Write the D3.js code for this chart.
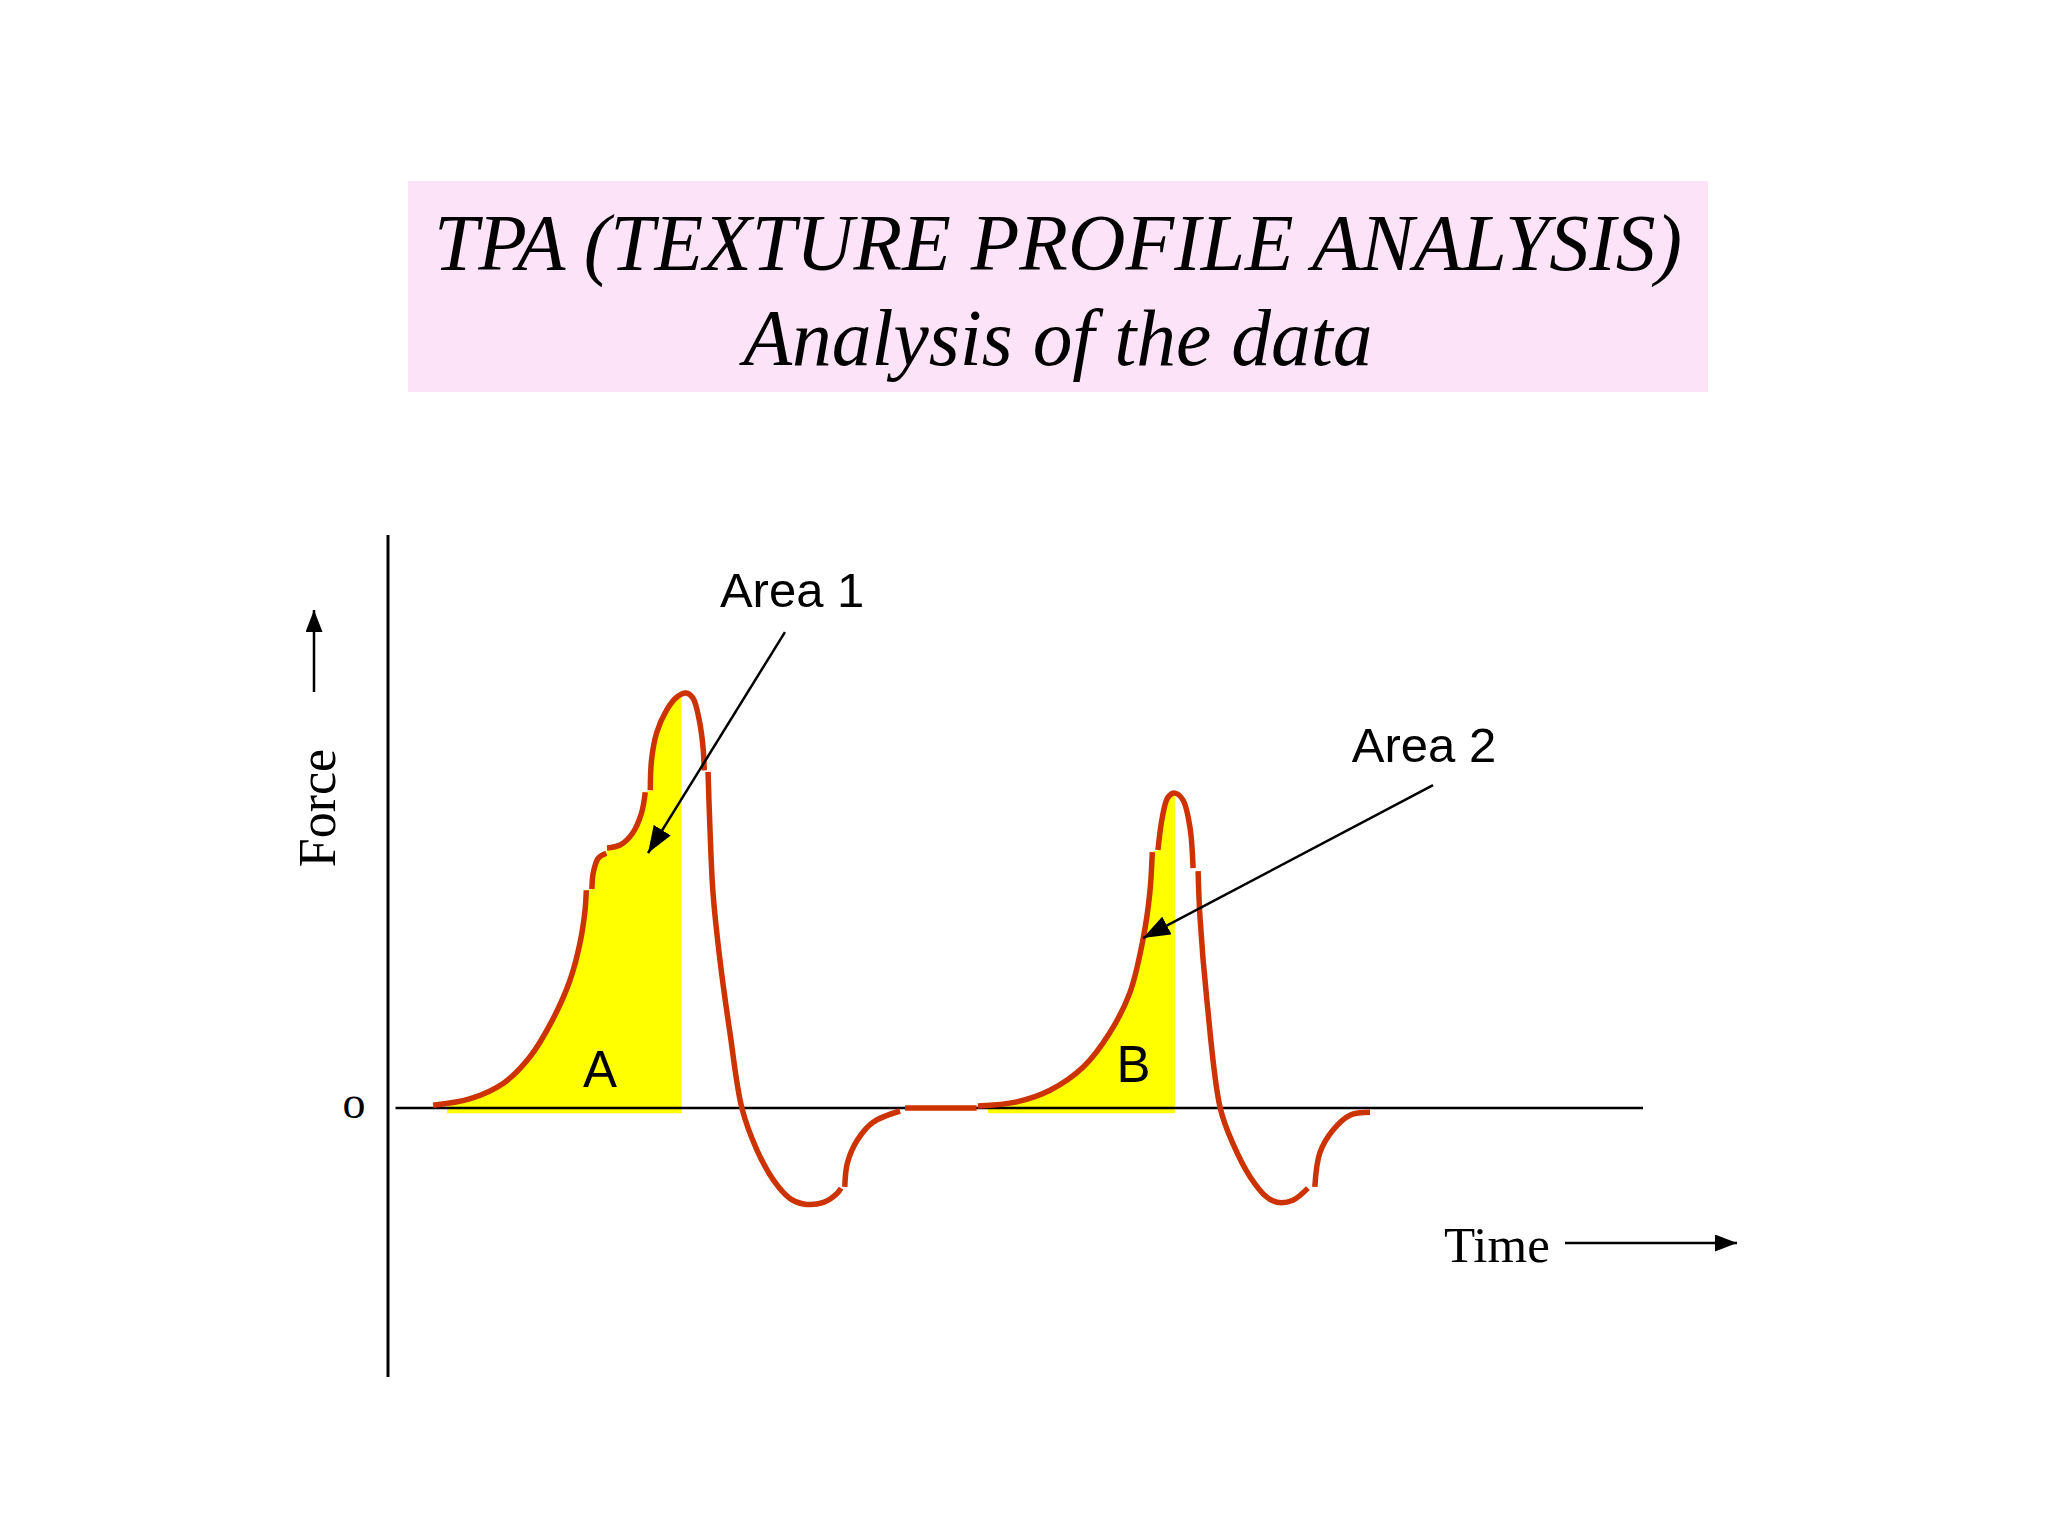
<!DOCTYPE html>
<html>
<head>
<meta charset="utf-8">
<script src="https://cdn.jsdelivr.net/npm/d3@7"></script>
<style>
  html, body { margin: 0; padding: 0; background: #ffffff; }
  svg { display: block; }
</style>
</head>
<body>
<svg id="tpa" width="2048" height="1536"></svg>
<script>
// Title text
const titleLines = ["TPA (TEXTURE PROFILE ANALYSIS)", "Analysis of the data"];

// Force / time curve, [time, force].
// The original curve is drawn in pieces with small steps between them.
const bite1 = [
  [[3.6, 0.7], [6.5, 2.2], [9.2, 6], [11.3, 12.3], [13.1, 21.2], [14.5, 30.8], [15.3, 39.8], [15.7, 47.7], [15.8, 52.5]],
  [[16.25, 52.8], [16.35, 56.6], [16.75, 60.2], [17.4, 61.4]],
  [[17.45, 62.7], [18.5, 63.4], [19.5, 66.3], [20.2, 71.1], [20.5, 76.1]],
  [[20.9, 76.6], [21, 83.9], [21.4, 90.4], [22.2, 95.9], [23, 99], [23.75, 100], [24.3, 98.8], [24.8, 93.5], [25.1, 87], [25.2, 81.4]],
  [[25.5, 81], [25.65, 67.7], [25.9, 51.8], [26.45, 35.7], [27.25, 18.1], [28.2, 0], [29.4, -10.1], [30.7, -17.3], [32, -21.7], [33.1, -23.1], [34.7, -22.7], [35.8, -20.5], [36.1, -19.3]],
  [[36.4, -19], [36.6, -13.3], [37.4, -7.7], [38.65, -3.4], [40.8, -0.7]]
];
const pause = [[41.2, 0], [46.9, 0]];
const bite2 = [
  [[47, 0.5], [50.1, 1.5], [52.75, 4.3], [55.4, 9.9], [57.5, 18.1], [59.1, 27.7], [60.15, 40.5], [60.7, 51.8], [60.9, 61.7]],
  [[61.35, 62.2], [61.7, 70.1], [62.15, 74.9], [62.7, 75.9], [63.35, 74.2], [63.9, 67.7], [64.15, 57.8]],
  [[64.55, 57.1], [64.7, 46], [65.25, 26], [66.3, 0.2], [67.3, -8.4], [68.7, -16.6], [70, -21.4], [70.85, -22.7], [72.1, -22.2], [73.3, -19.3]],
  [[73.85, -19], [74.25, -10.8], [75.3, -5.3], [76.65, -1.7], [78.25, -1]]
];

// shaded areas (time range) and which pieces of the curve bound them
const areaRanges = [[4.7, 23.4], [47.8, 62.7]];
const areaPieces = [bite1.slice(0, 4), bite2.slice(0, 2)];

// annotations [time, force]
const areaLabels = [
  {text: "Area 1", at: [26.45, 120.7], tip: [20.72, 61.45], from: [31.63, 114.7]},
  {text: "Area 2", at: [76.8, 83.4], tip: [60.16, 40.96], from: [83.27, 77.83]}
];
const letterLabels = [
  {text: "A", at: [16.9, 5.1]},
  {text: "B", at: [59.4, 6.3]}
];

// axis extents
const timeDomain = [0, 100];
const forceDomain = [-64.8, 138.1];

var svg = d3.select("#tpa");

// title box
svg.append("rect")
  .attr("x", 408).attr("y", 181)
  .attr("width", 1300).attr("height", 211)
  .attr("fill", "#fce3f7");

svg.selectAll("text.title")
  .data(titleLines)
  .enter()
  .append("text")
  .attr("class", "title")
  .attr("x", 1058)
  .attr("y", (d, i) => i == 0 ? 270 : 365)
  .attr("text-anchor", "middle")
  .attr("textLength", (d, i) => i == 0 ? 1248 : 629)
  .attr("lengthAdjust", "spacingAndGlyphs")
  .style("font-family", "'Liberation Serif', 'Times New Roman', serif")
  .style("font-style", "italic")
  .style("font-size", "80px")
  .text(d => d);

// scales
var x = d3.scaleLinear().domain(timeDomain).range([388, 1643]);
var y = d3.scaleLinear().domain(forceDomain).range([1377, 535]);

var defs = svg.append("defs");
function marker(id, len, wid) {
  defs.append("marker")
    .attr("id", id)
    .attr("viewBox", "0 0 10 10")
    .attr("preserveAspectRatio", "none")
    .attr("refX", 10).attr("refY", 5)
    .attr("markerWidth", len).attr("markerHeight", wid)
    .attr("markerUnits", "userSpaceOnUse")
    .attr("orient", "auto")
    .append("path")
    .attr("d", "M0,0 L10,5 L0,10 z")
    .attr("fill", "#000");
}
marker("head", 27, 20);
marker("headSmall", 22, 17);

areaRanges.forEach(function(r, i) {
  defs.append("clipPath")
    .attr("id", "clip" + i)
    .append("rect")
    .attr("x", x(r[0]))
    .attr("y", y(forceDomain[1]))
    .attr("width", x(r[1]) - x(r[0]))
    .attr("height", y(-1.3) - y(forceDomain[1]));
});

// yellow areas
var area = d3.area()
  .x(d => x(d[0]))
  .y0(y(-1.3))
  .y1(d => y(d[1]))
  .curve(d3.curveCatmullRom.alpha(0.5));

areaPieces.forEach(function(pieces, i) {
  svg.append("path")
    .attr("d", area(pieces.flat()))
    .attr("fill", "#ffff00")
    .attr("clip-path", "url(#clip" + i + ")");
});

// axes
svg.append("line")
  .attr("x1", x(0)).attr("x2", x(0))
  .attr("y1", y(forceDomain[1])).attr("y2", y(forceDomain[0]))
  .attr("stroke", "#000").attr("stroke-width", 3);

svg.append("line")
  .attr("x1", x(0.6)).attr("x2", x(timeDomain[1]))
  .attr("y1", y(0)).attr("y2", y(0))
  .attr("stroke", "#000").attr("stroke-width", 2.5);

// the curve
var line = d3.line()
  .x(d => x(d[0]))
  .y(d => y(d[1]))
  .curve(d3.curveCatmullRom.alpha(0.5));

svg.append("g")
  .selectAll("path")
  .data(bite1.concat([pause], bite2))
  .enter()
  .append("path")
  .attr("d", line)
  .attr("fill", "none")
  .attr("stroke", "#cc3300")
  .attr("stroke-width", 5.5);

// annotations
var serif = "'Liberation Serif', 'Times New Roman', serif",
  sans = "'Liberation Sans', Arial, sans-serif";

svg.selectAll("line.pointer")
  .data(areaLabels)
  .enter()
  .append("line")
  .attr("class", "pointer")
  .attr("x1", d => x(d.from[0])).attr("y1", d => y(d.from[1]))
  .attr("x2", d => x(d.tip[0])).attr("y2", d => y(d.tip[1]))
  .attr("stroke", "#000").attr("stroke-width", 2.5)
  .attr("marker-end", "url(#head)");

svg.selectAll("text.area")
  .data(areaLabels)
  .enter()
  .append("text")
  .attr("class", "area")
  .attr("x", d => x(d.at[0]))
  .attr("y", d => y(d.at[1]))
  .style("font-family", sans)
  .style("font-size", "49px")
  .text(d => d.text);

svg.selectAll("text.letter")
  .data(letterLabels)
  .enter()
  .append("text")
  .attr("class", "letter")
  .attr("x", d => x(d.at[0]))
  .attr("y", d => y(d.at[1]))
  .attr("text-anchor", "middle")
  .style("font-family", sans)
  .style("font-size", "51px")
  .text(d => d.text);

// axis titles
svg.append("text")
  .attr("x", 354).attr("y", y(0) + 10)
  .attr("text-anchor", "middle")
  .style("font-family", serif)
  .style("font-size", "46px")
  .text("o");

svg.append("text")
  .attr("transform", "translate(335,808) rotate(-90)")
  .attr("text-anchor", "middle")
  .style("font-family", serif)
  .style("font-size", "52px")
  .text("Force");

svg.append("line")
  .attr("x1", 314).attr("x2", 314)
  .attr("y1", 692).attr("y2", 610)
  .attr("stroke", "#000").attr("stroke-width", 2.5)
  .attr("marker-end", "url(#headSmall)");

svg.append("text")
  .attr("x", 1444).attr("y", 1262)
  .style("font-family", serif)
  .style("font-size", "51px")
  .text("Time");

svg.append("line")
  .attr("x1", 1565).attr("x2", 1737)
  .attr("y1", 1243).attr("y2", 1243)
  .attr("stroke", "#000").attr("stroke-width", 2.5)
  .attr("marker-end", "url(#headSmall)");
</script>
</body>
</html>
